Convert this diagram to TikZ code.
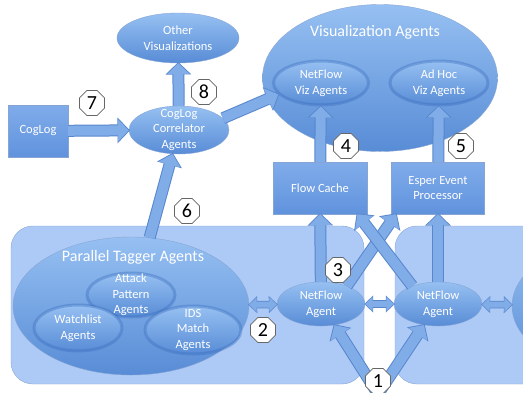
\documentclass[tikz,border=0pt]{standalone}
\usepackage{fontspec}
\setmainfont{Carlito}
\usetikzlibrary{shapes.geometric,arrows.meta}

\definecolor{panelfill}{RGB}{172,202,245}
\definecolor{paneledge}{RGB}{135,165,212}
\definecolor{blobtop}{RGB}{150,192,242}
\definecolor{blobbot}{RGB}{88,140,214}
\definecolor{boxtop}{RGB}{128,172,234}
\definecolor{boxbot}{RGB}{96,146,221}
\definecolor{arrowfill}{RGB}{128,172,232}
\definecolor{arrowedge}{RGB}{88,134,205}
\definecolor{glowc}{RGB}{60,110,190}

\begin{document}
\begin{tikzpicture}[x=1pt,y=-1pt,
        lbl/.style={text=white, align=center, font=\fontsize{12.5}{15.5}\selectfont},
        title/.style={text=white, font=\fontsize{16}{18}\selectfont},
        blob/.style={ellipse, inner sep=0pt, top color=blobtop, bottom color=blobbot, draw=paneledge},
        inblob/.style={blob, draw=glowc, draw opacity=0.4, line width=3pt},
        cbox/.style={rectangle, inner sep=0pt, top color=boxtop, bottom color=boxbot, draw=paneledge},
        panel/.style={fill=panelfill, draw=paneledge, rounded corners=22pt},
        numtag/.style={regular polygon, regular polygon sides=8, minimum size=27pt, inner sep=0pt,
            fill=white, draw=black!60, line width=0.6pt, font=\fontsize{20}{20}\selectfont},
        fat/.style={draw=arrowfill, line width=10pt, -{Triangle[width=22pt,length=11pt]},
            preaction={draw=arrowedge, line width=12pt, shorten >=-1.2pt, -{Triangle[width=25pt,length=12.5pt]}}},
        both/.style={draw=arrowfill, line width=6pt, {Triangle[width=14pt,length=7.5pt]}-{Triangle[width=14pt,length=7.5pt]},
            preaction={draw=arrowedge, line width=7.6pt, shorten >=-1pt, shorten <=-1pt, {Triangle[width=16.5pt,length=9pt]}-{Triangle[width=16.5pt,length=9pt]}}}]
        \useasboundingbox (0,0) rectangle (523,392);
        \clip (0,0) rectangle (523,392);
        % the two agent panels
        \draw[panel] (11,226) rectangle (364,384);
        \draw[panel] (395,226) rectangle (560,384);
        % upper part
        \node[blob, minimum width=122pt, minimum height=50pt, label={[lbl]center:Other\\Visualizations}] (othviz) at (178,38) {};
        \node[cbox, minimum width=60pt, minimum height=52pt, label={[lbl]center:CogLog}] (coglog) at (38,131) {};
        \node[blob, minimum width=100pt, minimum height=48pt, label={[lbl]center:CogLog\\Correlator\\Agents}] (corr) at (179,130) {};
        \node[blob, minimum width=235pt, minimum height=147pt] (vizag) at (380,78) {};
        \node[title] (viztitle) at (375,32) {Visualization Agents};
        \node[inblob, minimum width=95pt, minimum height=44pt, label={[lbl]center:NetFlow\\Viz Agents}] (nfviz) at (321,83) {};
        \node[inblob, minimum width=98pt, minimum height=44pt, label={[lbl]center:Ad Hoc\\Viz Agents}] (adhoc) at (439,83) {};
        \node[cbox, minimum width=94pt, minimum height=52pt, label={[lbl]center:Flow Cache}] (fcache) at (320,188) {};
        \node[cbox, minimum width=93pt, minimum height=52pt, label={[lbl]center:Esper Event\\Processor}] (esper) at (438,188) {};
        % lower part
        \node[blob, minimum width=236pt, minimum height=138pt] (tagger) at (131,306) {};
        \node[title] (tagtitle) at (133,257) {Parallel Tagger Agents};
        \node[inblob, minimum width=88pt, minimum height=44pt, label={[lbl]center:Attack\\Pattern\\Agents}] (attack) at (131,295) {};
        \node[inblob, minimum width=88pt, minimum height=46pt, label={[lbl]center:Watchlist\\Agents}] (watch) at (78,328) {};
        \node[inblob, minimum width=96pt, minimum height=48pt, label={[lbl]center:IDS\\Match\\Agents}] (ids) at (193,330) {};
        \node[blob, minimum width=88pt, minimum height=44pt, label={[lbl]center:NetFlow\\Agent}] (nf1) at (321,304) {};
        \node[blob, minimum width=88pt, minimum height=44pt, label={[lbl]center:NetFlow\\Agent}] (nf2) at (438,304) {};
        \node[blob, minimum width=236pt, minimum height=138pt] (nf3) at (630,306) {};
        \coordinate (feed) at (378,394);
        % arrows
        \draw[fat] (coglog) -- (corr);
        \draw[fat] (corr) -- (othviz);
        \draw[fat] (corr.15) -- (nfviz.195);
        \draw[fat] (tagger) -- (corr);
        \draw[fat] (fcache) -- (nfviz);
        \draw[fat] (esper) -- (adhoc);
        \draw[fat] (nf1) -- (fcache);
        \draw[fat] (nf2) -- (esper);
        \draw[fat] (nf1.35) -- (esper.-148);
        \draw[fat] (nf2.145) -- (fcache.-35);
        \draw[fat] (feed) -- (nf1);
        \draw[fat] (feed) -- (nf2);
        \draw[both] (tagger) -- (nf1);
        \draw[both] (nf1) -- (nf2);
        \draw[both] (nf2) -- (nf3);
        % step numbers
        \foreach \n/\p in {1/{378,381},2/{263,330},3/{338,270},4/{346,146},5/{461,146},6/{187,211},7/{92,103},8/{204,92}} {
            \node[numtag] (tag\n) at (\p) {\n};
        }
    \end{tikzpicture}
\end{document}
